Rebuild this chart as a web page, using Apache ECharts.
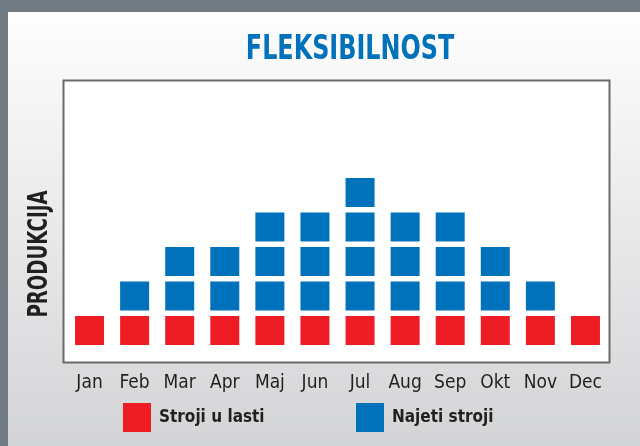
<!DOCTYPE html>
<html>
<head>
<meta charset="utf-8">
<script src="https://cdn.jsdelivr.net/npm/echarts@6/dist/echarts.min.js"></script>
<style>
  html, body { margin: 0; padding: 0; }
  #main { width: 640px; height: 446px; }
</style>
</head>
<body>
<div id="main"></div>
<script>
// months on the x axis
const months = ['Jan', 'Feb', 'Mar', 'Apr', 'Maj', 'Jun', 'Jul', 'Aug', 'Sep', 'Okt', 'Nov', 'Dec'];
// number of squares per month
const ownMachines = [1, 1, 1, 1, 1, 1, 1, 1, 1, 1, 1, 1];
const hiredMachines = [0, 1, 2, 2, 3, 3, 4, 3, 3, 2, 1, 0];

const RED = '#ee1c25';
const BLUE = '#0071bb';
const TXT = '#231f20';
const NARROW = "'Liberation Sans Narrow', 'DejaVu Sans Condensed', 'Arial Narrow', sans-serif";

// one point per square, stacked by level
const redPts = [];
const bluePts = [];
months.forEach((m, i) => {
  for (let k = 0; k < ownMachines[i]; k++) redPts.push([i, k]);
  for (let k = 0; k < hiredMachines[i]; k++) bluePts.push([i, ownMachines[i] + k]);
});

const chart = echarts.init(document.getElementById('main'));

const option = {
  animation: false,
  backgroundColor: {
    type: 'linear', x: 0, y: 0, x2: 0, y2: 1,
    colorStops: [
      { offset: 0, color: '#ffffff' },
      { offset: 1, color: '#d3d4d6' }
    ]
  },
  graphic: [
    { type: 'rect', z: 0, shape: { x: 0, y: 0, width: 640, height: 12 }, style: { fill: '#717b81' } },
    { type: 'rect', z: 0, shape: { x: 0, y: 0, width: 8, height: 446 }, style: { fill: '#717b81' } },
    { type: 'rect', z: 0, shape: { x: 63.5, y: 80.5, width: 546, height: 282 },
      style: { fill: '#ffffff', stroke: '#6b6b6b', lineWidth: 2 } },
    // title, squeezed to look like a condensed face
    { type: 'text', z: 1, x: 350, y: 50, scaleX: 0.78,
      style: { text: 'FLEKSIBILNOST', fill: BLUE, font: "bold 34px " + NARROW, align: 'center', verticalAlign: 'middle' } },
    { type: 'text', z: 1, x: 40, y: 254, rotation: Math.PI / 2, scaleX: 0.78,
      style: { text: 'PRODUKCIJA', fill: TXT, font: "bold 26px " + NARROW, align: 'center', verticalAlign: 'middle' } }
  ],
  legend: [
    {
      data: ['Stroji u lasti'],
      left: 123, top: 403, padding: 0,
      icon: 'rect', itemWidth: 28, itemHeight: 29,
      textStyle: { color: TXT, fontSize: 17, fontWeight: 'bold', fontFamily: NARROW, padding: [0, 0, 6, 3] }
    },
    {
      data: ['Najeti stroji'],
      left: 356, top: 403, padding: 0,
      icon: 'rect', itemWidth: 28, itemHeight: 29,
      textStyle: { color: TXT, fontSize: 17, fontWeight: 'bold', fontFamily: NARROW, padding: [10, 0, 0, 3] }
    }
  ],
  grid: { left: 67, right: 32, top: 80, bottom: 83 },
  xAxis: {
    type: 'category',
    data: months,
    axisLine: { show: false },
    axisTick: { show: false },
    axisLabel: { interval: 0, color: TXT, fontSize: 19, fontFamily: NARROW, margin: 11 }
  },
  yAxis: {
    type: 'value',
    min: -0.942,
    max: 7.26,
    show: false,
    splitLine: { show: false }
  },
  series: [
    {
      name: 'Stroji u lasti',
      type: 'scatter',
      z: 5,
      symbol: 'rect',
      symbolSize: 29,
      itemStyle: { color: RED, opacity: 1 },
      data: redPts
    },
    {
      name: 'Najeti stroji',
      type: 'scatter',
      z: 5,
      symbol: 'rect',
      symbolSize: 29,
      itemStyle: { color: BLUE, opacity: 1 },
      data: bluePts
    }
  ]
};

chart.setOption(option);
</script>
</body>
</html>
